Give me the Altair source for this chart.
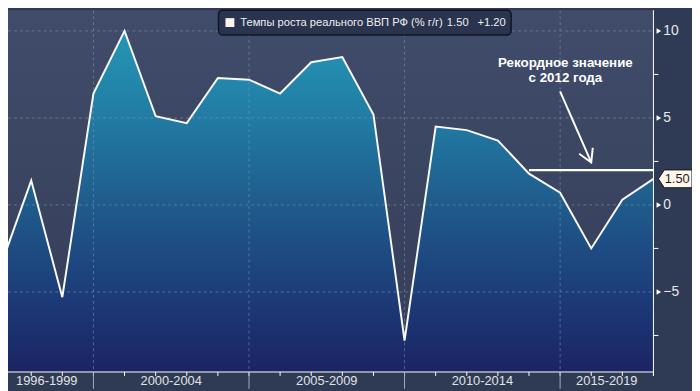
import altair as alt
import pandas as pd

# ---- data ----
years = list(range(1996, 2018))
gdp = [-3.6, 1.4, -5.3, 6.4, 10.0, 5.1, 4.7, 7.3, 7.2, 6.4, 8.2, 8.5,
       5.2, -7.8, 4.5, 4.3, 3.7, 1.8, 0.7, -2.5, 0.3, 1.5]

group_labels = ["1996-1999", "2000-2004", "2005-2009", "2010-2014", "2015-2019"]
group_mid = [1997.5, 2001.5, 2006.5, 2011.5, 2015.5]
separators = [1999, 2004, 2009, 2014]

y_major = [-5, 0, 5, 10]
y_major_labels = ["\u22125", "0", "5", "10"]
y_minor = [-7.5, -2.5, 2.5, 7.5]
x_ticks = list(range(1997, 2018))

series_name = "Темпы роста реального ВВП РФ (% г/г)"
note_lines = ["Рекордное значение", "с 2012 года"]
note_x = [2014.17, 2014.17]
note_y = [8.18, 7.27]
record_level = 2.0
record_from, record_to = 2013, 2017
arrow_from = (2014.0, 6.53)
arrow_to = (2015.0, 2.44)

last_val = gdp[-1]
change = gdp[-1] - gdp[-2]

W, H = 653, 366
FONT = "Liberation Sans"

xs = alt.Scale(domain=[1996.254, 2017], nice=False, zero=False)
ys = alt.Scale(domain=[-9.6, 11.19], nice=False, zero=False)

df = pd.DataFrame({"year": years, "value": gdp})
one = pd.DataFrame({"a": [0]})


def X(f):
    return alt.X(f, scale=xs, axis=None)


def Y(f):
    return alt.Y(f, scale=ys, axis=None, stack=None)


bg = alt.Chart(one).mark_rect(
    color=alt.Gradient(gradient="linear", x1=0, x2=0, y1=0, y2=1,
                       stops=[alt.GradientStop(color="#404c6a", offset=0),
                              alt.GradientStop(color="#343d58", offset=1)])
).encode(x=alt.value(0), x2=alt.value(W), y=alt.value(0), y2=alt.value(H))

area = alt.Chart(df).mark_area(
    clip=True,
    color=alt.Gradient(gradient="linear", x1=0, x2=0, y1=0, y2=1,
                       stops=[alt.GradientStop(color="#2596b6", offset=0),
                              alt.GradientStop(color="#217ba3", offset=0.26),
                              alt.GradientStop(color="#1f5c8c", offset=0.5),
                              alt.GradientStop(color="#1c3a77", offset=0.79),
                              alt.GradientStop(color="#1b2463", offset=1)])
).encode(x=X("year:Q"), y=Y("value:Q"), y2=alt.value(H))

hgrid = alt.Chart(pd.DataFrame({"v": y_major})).mark_rule(
    color="#8397b8", opacity=0.55, strokeDash=[3, 3], strokeWidth=1
).encode(y=Y("v:Q"), x=alt.value(0), x2=alt.value(W))

vgrid = alt.Chart(pd.DataFrame({"s": separators})).mark_rule(
    color="#8397b8", opacity=0.55, strokeDash=[3, 3], strokeWidth=1
).encode(x=X("s:Q"), y=alt.value(0), y2=alt.value(H))

record = alt.Chart(pd.DataFrame({"x": [record_from], "x2": [record_to], "y": [record_level]})).mark_rule(
    color="#ffffff", strokeWidth=2.5
).encode(x=X("x:Q"), x2="x2:Q", y=Y("y:Q"))

line = alt.Chart(df).mark_line(color="#f8f8f8", strokeWidth=2, clip=True).encode(
    x=X("year:Q"), y=Y("value:Q"))

arrow = alt.Chart(pd.DataFrame({"x": [arrow_from[0]], "x2": [arrow_to[0]],
                                "y": [arrow_from[1]], "y2": [arrow_to[1]]})).mark_rule(
    color="#ffffff", strokeWidth=2
).encode(x=X("x:Q"), x2="x2:Q", y=Y("y:Q"), y2="y2:Q")

arrowhead = alt.Chart(pd.DataFrame({"x": [arrow_to[0]], "y": [arrow_to[1]]})).mark_point(
    shape="M-0.5,-0.866 L0,0 L0.5,-0.866", filled=False, size=900, strokeWidth=2,
    color="#ffffff", opacity=1, angle=336
).encode(x=X("x:Q"), y=Y("y:Q"))

note = alt.Chart(pd.DataFrame({"t": note_lines, "x": note_x, "y": note_y})).mark_text(
    font=FONT, fontSize=13.5, fontWeight="bold", color="#ffffff", align="center", baseline="middle"
).encode(x=X("x:Q"), y=Y("y:Q"), text="t:N")

# ---- axes drawn as marks ----
x_domain = alt.Chart(one).mark_rule(color="#ffffff", strokeWidth=1).encode(
    x=alt.value(0), x2=alt.value(W), y=alt.value(H))
y_domain = alt.Chart(one).mark_rule(color="#ffffff", strokeWidth=1).encode(
    x=alt.value(W), y=alt.value(0), y2=alt.value(H + 4))

x_tick_marks = alt.Chart(pd.DataFrame({"t": x_ticks})).mark_rule(
    color="#ffffff", strokeWidth=1
).encode(x=X("t:Q"), y=alt.value(H), y2=alt.value(H + 4))

sep_axis = alt.Chart(pd.DataFrame({"s": separators})).mark_rule(
    color="#a4adbf", strokeWidth=1
).encode(x=X("s:Q"), y=alt.value(H), y2=alt.value(H + 17))

xlabels = alt.Chart(pd.DataFrame({"lab": group_labels, "m": group_mid})).mark_text(
    font=FONT, fontSize=13, color="#e2e2e2", baseline="middle", align="center"
).encode(x=X("m:Q"), y=alt.value(H + 9), text="lab:N")

y_minor_marks = alt.Chart(pd.DataFrame({"v": y_minor})).mark_rule(
    color="#ffffff", strokeWidth=1
).encode(y=Y("v:Q"), x=alt.value(W), x2=alt.value(W + 5))

tri = alt.Chart(pd.DataFrame({"v": y_major})).mark_point(
    shape="triangle-right", filled=True, size=30, color="#ffffff", opacity=1
).encode(x=alt.value(W + 5.5), y=Y("v:Q"))

ylabels = alt.Chart(pd.DataFrame({"v": y_major, "t": y_major_labels})).mark_text(
    font=FONT, fontSize=14, color="#e8e8e8", align="left", baseline="middle"
).encode(x=alt.value(W + 10), y=Y("v:Q"), text="t:N")

# ---- legend box ----
legend_box = alt.Chart(one).mark_rect(
    fill="#2a344e", stroke="#11151f", strokeWidth=1.5, cornerRadius=4
).encode(x=alt.value(213), x2=alt.value(509), y=alt.value(0), y2=alt.value(25))

legend_sq = alt.Chart(one).mark_square(size=81, color="#fdf2ec", opacity=1).encode(
    x=alt.value(224.5), y=alt.value(12.5))


def legend_text(t, px):
    return alt.Chart(pd.DataFrame({"t": [t]})).mark_text(
        font=FONT, fontSize=11.3, color="#eeeeee", align="left", baseline="middle"
    ).encode(x=alt.value(px), y=alt.value(13), text="t:N")


leg1 = legend_text(series_name, 235)
leg2 = legend_text(f"{last_val:.2f}", 444)
leg3 = legend_text(f"{change:+.2f}", 475)

# ---- last-value tag ----
tag = alt.Chart(pd.DataFrame({"v": [last_val]})).mark_point(
    shape="M-1,0 L-0.65,-0.53 L1,-0.53 L1,0.53 L-0.65,0.53 Z", filled=True,
    size=1156, fill="#fff6ec", stroke="#151515", strokeWidth=1, opacity=1
).encode(x=alt.value(675), y=Y("v:Q"))

tag_txt = alt.Chart(pd.DataFrame({"v": [last_val], "t": [f"{last_val:.2f}"]})).mark_text(
    font=FONT, fontSize=13, color="#1e1e1e", align="center", baseline="middle"
).encode(x=alt.value(677), y=Y("v:Q"), text="t:N")

chart = alt.layer(
    bg, area, hgrid, vgrid, record, line, arrow, arrowhead, note,
    x_domain, y_domain, x_tick_marks, sep_axis, xlabels, y_minor_marks, ylabels,
    legend_box, legend_sq, leg1, leg2, leg3, tag, tag_txt, tri
).properties(
    width=W, height=H,
    autosize=alt.AutoSizeParams(type="none"),
    padding={"left": 0, "top": 0, "right": 39, "bottom": 17},
    background="#2f3b54",
).configure_view(stroke=None)

chart.save("out.html", embed_options={"renderer": "svg", "actions": False})
